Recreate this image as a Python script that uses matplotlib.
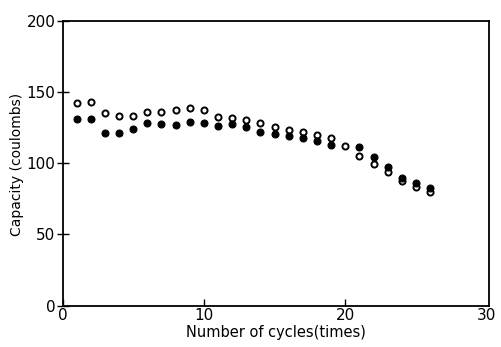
import numpy as np
from matplotlib import pyplot as plt

plt.rcParams['font.family'] = ['DejaVu Sans']

# cycle number
cycles = np.arange(1, 27)

# open circles
cap_open = [142.4, 143.0, 135.0, 133.3, 133.0, 135.7, 135.7, 137.5, 138.5, 137.4,
            132.4, 132.0, 130.2, 128.0, 125.4, 123.3, 121.9, 119.6, 117.5, 112.3,
            105.3, 99.2, 93.6, 87.5, 83.5, 80.0]

# filled circles
cap_filled = [131.2, 131.0, 121.4, 121.4, 123.8, 128.2, 127.3, 127.0, 129.1, 128.0,
              125.9, 127.4, 125.6, 121.7, 120.7, 119.1, 117.7, 115.6, 113.0, None,
              111.6, 104.3, 97.5, 89.8, 85.9, 82.4]

x_ticks = [0, 10, 20, 30]
y_ticks = [0, 50, 100, 150, 200]


def main():
    fig = plt.figure(figsize=(5.01, 3.47), dpi=100)
    ax = fig.add_axes([62.5 / 501, 1 - 305.7 / 347, (489 - 62.5) / 501, (305.7 - 20.7) / 347])

    ax.plot(cycles, cap_open, linestyle='none', marker='o', ms=4.4,
            mfc='white', mec='black', mew=1.4)
    xf = [c for c, v in zip(cycles, cap_filled) if v is not None]
    yf = [v for v in cap_filled if v is not None]
    ax.plot(xf, yf, linestyle='none', marker='o', ms=5.0,
            mfc='black', mec='black', mew=0.8)

    ax.set_xlim(0, 30.16)
    ax.set_ylim(0, 200)
    ax.set_xticks(x_ticks)
    ax.set_yticks(y_ticks)
    ax.tick_params(axis='x', direction='in', length=5, width=1, labelsize=11, pad=2)
    ax.tick_params(axis='y', direction='inout', length=8, width=1, labelsize=11, pad=1)
    # no tick mark at 30 (sits on the right frame)
    ax.xaxis.get_major_ticks()[-1].tick1line.set_visible(False)
    for s in ax.spines.values():
        s.set_linewidth(1.3)

    ax.set_xlabel('Number of cycles(times)', fontsize=10.5, labelpad=1)
    ax.set_ylabel('Capacity (coulombs)', fontsize=10)
    ax.yaxis.set_label_coords(-0.0914, 0.494)

    fig.savefig('out.png', dpi=100)


if __name__ == '__main__':
    main()
